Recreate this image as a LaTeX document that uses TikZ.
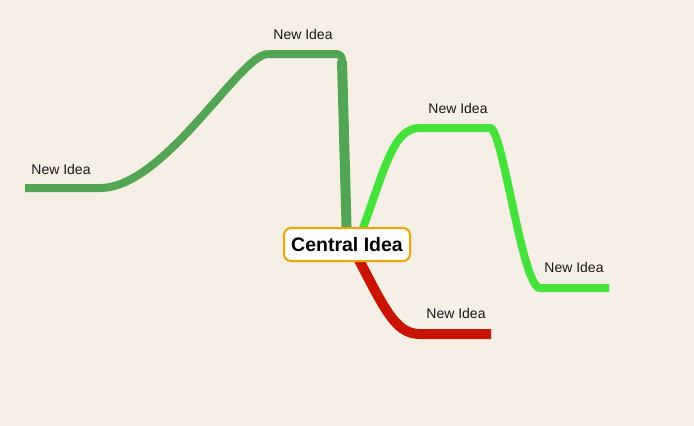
\documentclass[tikz,border=0pt]{standalone}
\usepackage{fontspec}
\setmainfont{Liberation Sans}
\definecolor{paper}{RGB}{245,239,229}
\definecolor{leafgreen}{RGB}{82,165,84}
\definecolor{limegreen}{RGB}{70,226,60}
\definecolor{brickred}{RGB}{200,20,0}
\definecolor{amber}{RGB}{245,163,0}
\pgfdeclarelayer{back}
\pgfdeclarelayer{bg}
\pgfsetlayers{back,bg,main}
\tikzset{
  topic/.style={draw=amber, line width=2pt, fill=white, rounded corners=7pt,
    minimum width=126pt, minimum height=33pt, inner sep=0pt,
    font=\fontsize{19.5}{22}\selectfont\bfseries},
  idea/.style={inner sep=0pt, font=\fontsize{14}{16}\selectfont, text=black!90},
  branch/.style={line width=8pt, line cap=butt, line join=round}
}
\begin{document}
\begin{tikzpicture}[x=1pt, y=-1pt]
  \useasboundingbox (0,0) rectangle (694,426);
  \begin{pgfonlayer}{back}
    \fill[paper] (0,0) rectangle (694,426);
  \end{pgfonlayer}

  \node[topic] (c) at (347,244.5) {Central Idea};

  \node[idea] (a) at (303,34) {New Idea};
  \node[idea] (b) at (61,169) {New Idea};
  \node[idea] (d) at (458,108) {New Idea};
  \node[idea] (e) at (574,267) {New Idea};
  \node[idea] (f) at (456,313) {New Idea};

  \coordinate (aL) at (268,54);
  \coordinate (bL) at (25,188);
  \coordinate (dL) at (420,128);
  \coordinate (eL) at (540,288);
  \coordinate (fL) at (420,334);

  \begin{pgfonlayer}{bg}
    % upper-left branch
    \draw[branch, leafgreen, rounded corners=6pt]
      (c.center) -- (342,54) -- (aL);
    \draw[branch, leafgreen]
      (aL) .. controls (240,54) and (165,188) .. (100,188) -- (bL);
    % its stem is a little wider than the rest
    \fill[leafgreen] (337,61) -- (347,61) -- (352,244) -- (342,244) -- cycle;
    % right branch
    \draw[branch, limegreen]
      ([xshift=10pt]c.center) .. controls (385,170) and (392,128) .. (dL)
      -- (490,128) .. controls (503,128) and (522,288) .. (eL) -- (609,288);
    % lower branch
    \draw[branch, brickred, line width=10pt]
      ([xshift=4pt]c.center) .. controls (385,310) and (395,334) .. (fL)
      -- (491,334);
  \end{pgfonlayer}
\end{tikzpicture}
\end{document}
